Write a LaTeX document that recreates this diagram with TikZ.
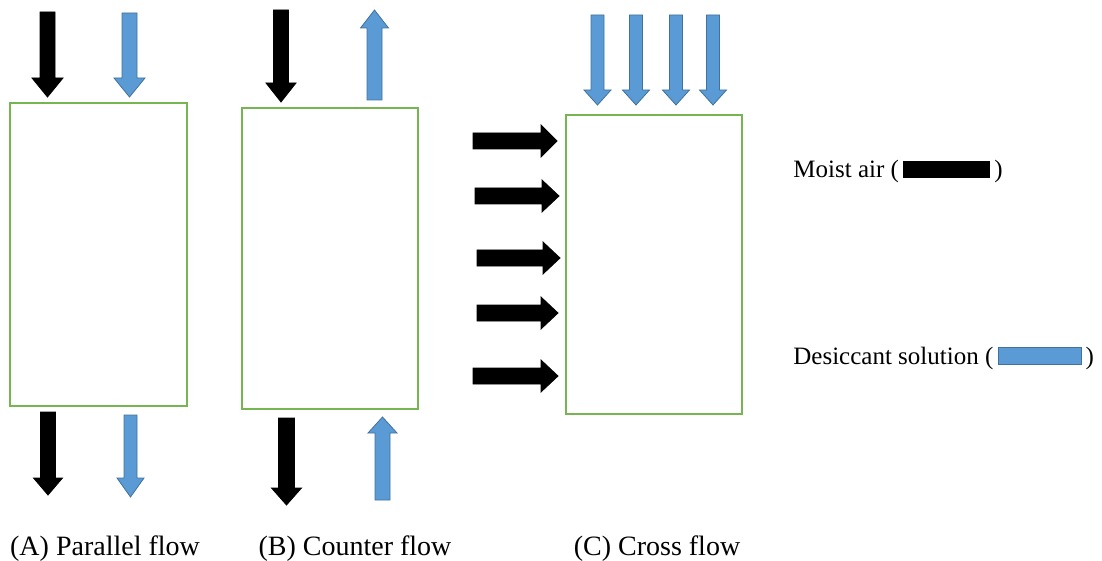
\documentclass[tikz,border=0pt]{standalone}
\usepackage{fontspec}
\setmainfont{Liberation Serif}
\definecolor{boxgreen}{HTML}{77B553}
\definecolor{flowblue}{HTML}{5B9BD5}
\definecolor{flowblueedge}{HTML}{41719C}
\tikzset{
  greenbox/.style={draw=boxgreen, line width=1pt},
  airarrow/.style={fill=black, draw=black, line width=0.4pt, line join=miter},
  solarrow/.style={fill=flowblue, draw=flowblueedge, line width=0.4pt, line join=miter},
  caption/.style={font=\fontsize{14}{16}\selectfont, anchor=base},
  legend/.style={font=\fontsize{12.5}{15}\selectfont, anchor=base west, inner sep=0pt}
}
% vertical block arrow: style, x centre, y start, y head base, y tip, shaft half width, head half width
\newcommand{\varrow}[7]{\draw[#1] (#2-#6,#3) -- (#2+#6,#3) -- (#2+#6,#4) -- (#2+#7,#4) -- (#2,#5) -- (#2-#7,#4) -- (#2-#6,#4) -- cycle;}
% horizontal block arrow: style, y centre, x start, x head base, x tip, shaft half width, head half width
\newcommand{\harrow}[7]{\draw[#1] (#3,#2-#6) -- (#4,#2-#6) -- (#4,#2-#7) -- (#5,#2) -- (#4,#2+#7) -- (#4,#2+#6) -- (#3,#2+#6) -- cycle;}
\begin{document}
\begin{tikzpicture}[x=0.5pt, y=-0.5pt]
\useasboundingbox (0,0) rectangle (1102,561);
% boxes
\draw[greenbox] (10,103) rectangle (187,406);
\draw[greenbox] (242,108) rectangle (418,409);
\draw[greenbox] (566,115) rectangle (742,414);
% (A) parallel flow
\varrow{airarrow}{47.5}{12}{78}{97}{7.5}{15.5}
\varrow{solarrow}{129.5}{13}{78}{97}{7.5}{15.5}
\varrow{airarrow}{48}{412}{478}{495}{7.5}{14.5}
\varrow{solarrow}{130.5}{415}{478}{497}{6.5}{13.5}
% (B) counter flow
\varrow{airarrow}{281}{10}{83}{102}{7.5}{15}
\varrow{solarrow}{374.5}{100}{28}{10}{7.5}{14}
\varrow{airarrow}{286.5}{418}{488}{505}{8}{15}
\varrow{solarrow}{382.5}{500}{433}{417}{7.5}{14.5}
% (C) cross flow
\varrow{solarrow}{597.5}{15}{90}{105}{6.5}{13.5}
\varrow{solarrow}{636}{15}{90}{105}{6.5}{13.5}
\varrow{solarrow}{676}{15}{90}{105}{6.5}{13.5}
\varrow{solarrow}{713}{15}{90}{105}{6.5}{13.5}
\harrow{airarrow}{141}{473}{541}{557}{8}{16}
\harrow{airarrow}{196}{475}{542}{559}{8}{16}
\harrow{airarrow}{258}{477}{543}{560}{8}{16}
\harrow{airarrow}{313}{477}{541}{558}{8}{16}
\harrow{airarrow}{376}{473}{541}{558}{8}{16}
% captions
\node[caption] (capA) at (105,555) {(A) Parallel flow};
\node[caption] (capB) at (355,555) {(B) Counter flow};
\node[caption] (capC) at (657,555) {(C) Cross flow};
% legend
\node[legend] (legAir) at (793,178) {Moist air (\,\rule{43.5pt}{8.5pt}\,)};
\node[legend] (legSol) at (793,364) {Desiccant solution (\,{\fboxsep=0pt\fboxrule=0.5pt\fcolorbox{flowblueedge}{flowblue}{\rule{0pt}{8pt}\hspace{41pt}}}\,)};
\end{tikzpicture}
\end{document}
